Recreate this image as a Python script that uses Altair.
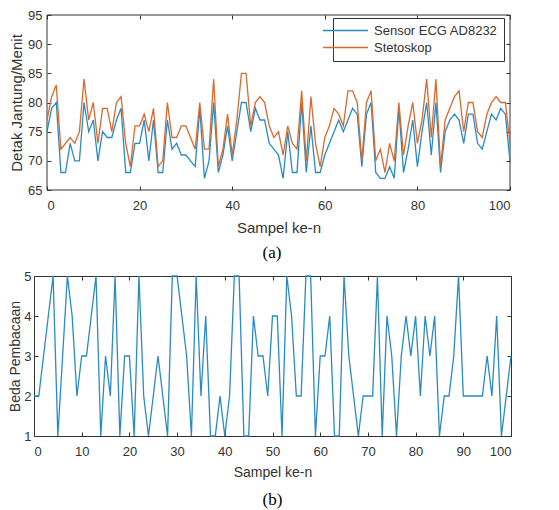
import altair as alt
import pandas as pd

samples = list(range(0, 101))

ecg = [75, 79, 80, 68, 68, 73, 70, 70, 80, 75,
       77, 70, 75, 74, 74, 77, 79, 68, 68, 73,
       73, 77, 70, 77, 68, 68, 77, 72, 73, 71,
       71, 70, 69, 79, 67, 70, 80, 68, 71, 76,
       70, 75, 80, 80, 75, 79, 77, 77, 73, 72,
       71, 67, 75, 68, 68, 80, 68, 76, 68, 68,
       71, 73, 75, 77, 75, 77, 79, 78, 69, 78,
       80, 68, 67, 67, 69, 67, 79, 68, 72, 77,
       69, 75, 80, 71, 80, 68, 75, 77, 78, 77,
       73, 78, 78, 73, 72, 75, 78, 77, 79, 78, 70]

stetoskop = [77, 81, 83, 72, 73, 74, 73, 75, 84, 77,
             80, 73, 79, 79, 75, 80, 81, 73, 69, 76,
             76, 78, 75, 79, 69, 70, 80, 74, 74, 76,
             76, 74, 72, 80, 72, 72, 84, 69, 72, 78,
             71, 77, 85, 85, 76, 80, 81, 80, 76, 74,
             75, 71, 76, 73, 72, 82, 70, 81, 73, 69,
             74, 76, 79, 78, 76, 82, 82, 80, 70, 80,
             82, 70, 72, 68, 73, 70, 80, 71, 76, 80,
             73, 77, 84, 74, 84, 69, 77, 79, 81, 82,
             75, 80, 80, 75, 74, 78, 80, 81, 80, 80, 73]

beda = [2, 2, 3, 4, 5, 1, 3, 5, 4, 2,
        3, 3, 4, 5, 1, 3, 2, 5, 1, 3,
        3, 1, 5, 2, 1, 2, 3, 2, 1, 5,
        5, 4, 3, 1, 5, 2, 4, 1, 1, 2,
        1, 2, 5, 5, 1, 1, 4, 3, 3, 2,
        4, 4, 1, 5, 4, 2, 2, 5, 5, 1,
        3, 3, 4, 1, 1, 5, 3, 2, 1, 2,
        2, 2, 5, 1, 4, 3, 1, 3, 4, 3,
        4, 2, 4, 3, 4, 1, 2, 2, 3, 5,
        2, 2, 2, 2, 2, 3, 2, 4, 1, 2, 3]

series_names = ["Sensor ECG AD8232", "Stetoskop"]
series_colors = ["#2a8bc3", "#d9692e"]
xdom_a = [0, 100]
ydom_a = [65, 95]
xticks_a = [0, 20, 40, 60, 80, 100]
yticks_a = [65, 70, 75, 80, 85, 90, 95]
xdom_b = [0, 100]
ydom_b = [1, 5]
xticks_b = [0, 10, 20, 30, 40, 50, 60, 70, 80, 90, 100]
yticks_b = [1, 2, 3, 4, 5]

FONT = "Liberation Sans"
AX = "#333333"

df_a = pd.DataFrame({
    "Sampel": samples + samples,
    "Nilai": ecg + stetoskop,
    "Seri": [series_names[0]] * len(samples) + [series_names[1]] * len(samples),
})
df_frame_a = pd.DataFrame({"x0": [xdom_a[0]], "x1": [xdom_a[1]], "y0": [ydom_a[0]], "y1": [ydom_a[1]]})
df_b = pd.DataFrame({"Sampel": samples, "Beda": beda})


def ax(orient, values, title=None, labels=True, lpad=6, tpad=6, tsize=15, offset=-4):
    kw = dict(orient=orient, values=values, offset=offset, tickSize=4, domain=False,
              grid=False, labels=labels, tickColor=AX, tickWidth=1,
              labelFont=FONT, labelFontSize=13, labelColor=AX,
              labelPadding=lpad)
    if title is not None:
        kw.update(title=title, titleFont=FONT, titleFontSize=tsize,
                  titleFontWeight="normal", titleColor=AX, titlePadding=tpad)
    else:
        kw.update(title=None)
    return alt.Axis(**kw)


# ---------- panel (a) ----------
W_A, SHIFT_A, H_A = 476, 13, 175
xs_a = alt.Scale(domain=xdom_a, nice=False, range=[SHIFT_A, W_A])
ys_a = alt.Scale(domain=ydom_a, nice=False)

frame_a = alt.Chart(df_frame_a).mark_rect(fillOpacity=0, stroke=AX, strokeWidth=1).encode(
    x=alt.X("x0:Q", scale=xs_a, axis=ax("top", xticks_a, labels=False)),
    x2="x1:Q",
    y=alt.Y("y0:Q", scale=ys_a, axis=ax("right", yticks_a, labels=False)),
    y2="y1:Q",
)

lines_a = alt.Chart(df_a).mark_line(strokeWidth=1.3).encode(
    x=alt.X("Sampel:Q", scale=xs_a, axis=ax("bottom", xticks_a, "Sampel ke-n", lpad=9, tpad=8)),
    y=alt.Y("Nilai:Q", scale=ys_a,
            axis=ax("left", yticks_a, "Detak Jantung/Menit", lpad=5, tpad=3, offset=-(SHIFT_A + 4))),
    color=alt.Color("Seri:N",
                    scale=alt.Scale(domain=series_names, range=series_colors),
                    legend=alt.Legend(orient="none", legendX=299, legendY=3, title=None,
                                      strokeColor=AX, fillColor="white", padding=6,
                                      symbolType="M-4.5,0H4.5", symbolSize=100,
                                      symbolStrokeWidth=1.4, labelOffset=22,
                                      labelFont=FONT, labelFontSize=13,
                                      labelColor=AX, rowPadding=3)),
)

panel_a = alt.layer(frame_a, lines_a).resolve_axis(x="independent", y="independent").properties(
    width=W_A, height=H_A,
    view=alt.ViewBackground(stroke="transparent"),
    title=alt.TitleParams("(a)", orient="bottom", font="Liberation Serif", fontSize=17,
                          fontWeight="normal", color="black", offset=10),
)

# ---------- panel (b) ----------
xs_b = alt.Scale(domain=xdom_b, nice=False)
ys_b = alt.Scale(domain=ydom_b, nice=False)

line_b = alt.Chart(df_b).mark_line(strokeWidth=1.3, color=series_colors[0]).encode(
    x=alt.X("Sampel:Q", scale=xs_b, axis=ax("bottom", xticks_b, "Sampel ke-n", lpad=9, tpad=7, tsize=14)),
    y=alt.Y("Beda:Q", scale=ys_b, axis=ax("left", yticks_b, "Beda Pembacaan", lpad=3, tpad=1, tsize=14)),
)
ticks_b = alt.Chart(df_b).mark_point(opacity=0, size=4).encode(
    x=alt.X("Sampel:Q", scale=xs_b, axis=ax("top", xticks_b, labels=False)),
    y=alt.Y("Beda:Q", scale=ys_b, axis=ax("right", yticks_b, labels=False)),
)

panel_b = alt.layer(line_b, ticks_b).resolve_axis(x="independent", y="independent").properties(
    width=477, height=160,
    title=alt.TitleParams("(b)", orient="bottom", font="Liberation Serif", fontSize=17,
                          fontWeight="normal", color="black", offset=13),
)

chart = alt.vconcat(panel_a, panel_b, spacing=7).properties(
    padding={"left": 0, "top": 0, "right": 0, "bottom": 0},
    background="white",
).configure_view(stroke=AX, strokeWidth=1)

chart.save("out.html", embed_options={"renderer": "svg", "actions": False})
